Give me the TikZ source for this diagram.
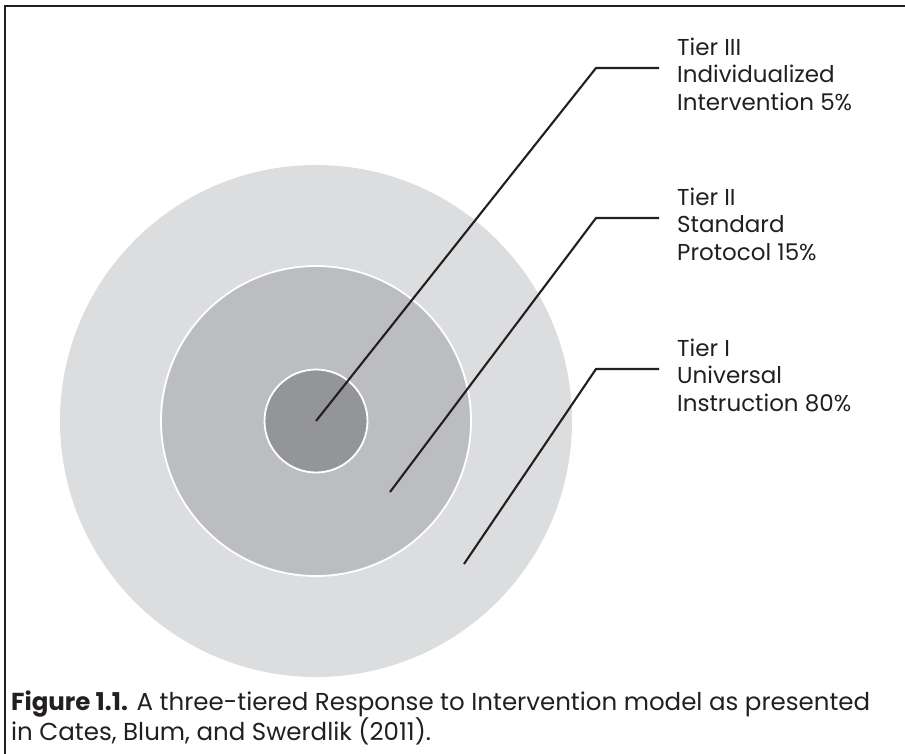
\documentclass[tikz,border=0pt]{standalone}
\usepackage{fontspec}
\setmainfont{Poppins}
\usetikzlibrary{positioning}

\definecolor{tierone}{HTML}{DCDDDF}
\definecolor{tiertwo}{HTML}{BCBDC0}
\definecolor{tierthree}{HTML}{939598}
\definecolor{inkgray}{HTML}{231F20}

\begin{document}
\begin{tikzpicture}[x=1pt, y=-1pt,
    ring/.style={circle, inner sep=0pt, draw=white, line width=1.8pt},
    tag/.style={align=left, inner sep=0pt, text=inkgray,
                font=\fontsize{23}{27.5}\selectfont},
    leader/.style={line width=2.1pt, draw=inkgray}]
  \useasboundingbox (0,0) rectangle (905,754);

      % frame %
      \draw[line width=2.8pt, draw=inkgray] (905,6) -- (5,6) -- (5,754);

      % rings %
      \node[ring, draw=none, fill=tierone, minimum size=512pt] (outer) at (316,421) {};
      \node[ring, fill=tiertwo, minimum size=310pt] (middle) at (316,421) {};
      \node[ring, fill=tierthree, minimum size=103pt] (inner) at (316,421) {};

      % leader points %
      \coordinate (p3) at (inner.center);
      \coordinate (p2) at (390,492);
      \coordinate (p1) at (464,564);
      \coordinate (k3) at (596,68);
      \coordinate (k2) at (596,218);
      \coordinate (k1) at (596,369);
      \coordinate (e3) at (659,68);
      \coordinate (e2) at (659,218);
      \coordinate (e1) at (659,369);

      % labels %
      \node[tag, right=18pt of e3, yshift=-6pt] (t3) {Tier III\\Individualized\\Intervention 5\%};
      \node[tag, right=18pt of e2, yshift=-6pt] (t2) {Tier II\\Standard\\Protocol 15\%};
      \node[tag, right=18pt of e1, yshift=-6pt] (t1) {Tier I\\Universal\\Instruction 80\%};
      \node[tag, anchor=west, font=\fontsize{24.5}{28}\selectfont] (caption) at (11,718)
        {\textbf{Figure 1.1.} A three-tiered Response to Intervention model as presented\\
         in Cates, Blum, and Swerdlik (2011).};

      % edges %
      \draw[leader] (p3) -- (k3) -- (e3);
      \draw[leader] (p2) -- (k2) -- (e2);
      \draw[leader] (p1) -- (k1) -- (e1);
\end{tikzpicture}
\end{document}
